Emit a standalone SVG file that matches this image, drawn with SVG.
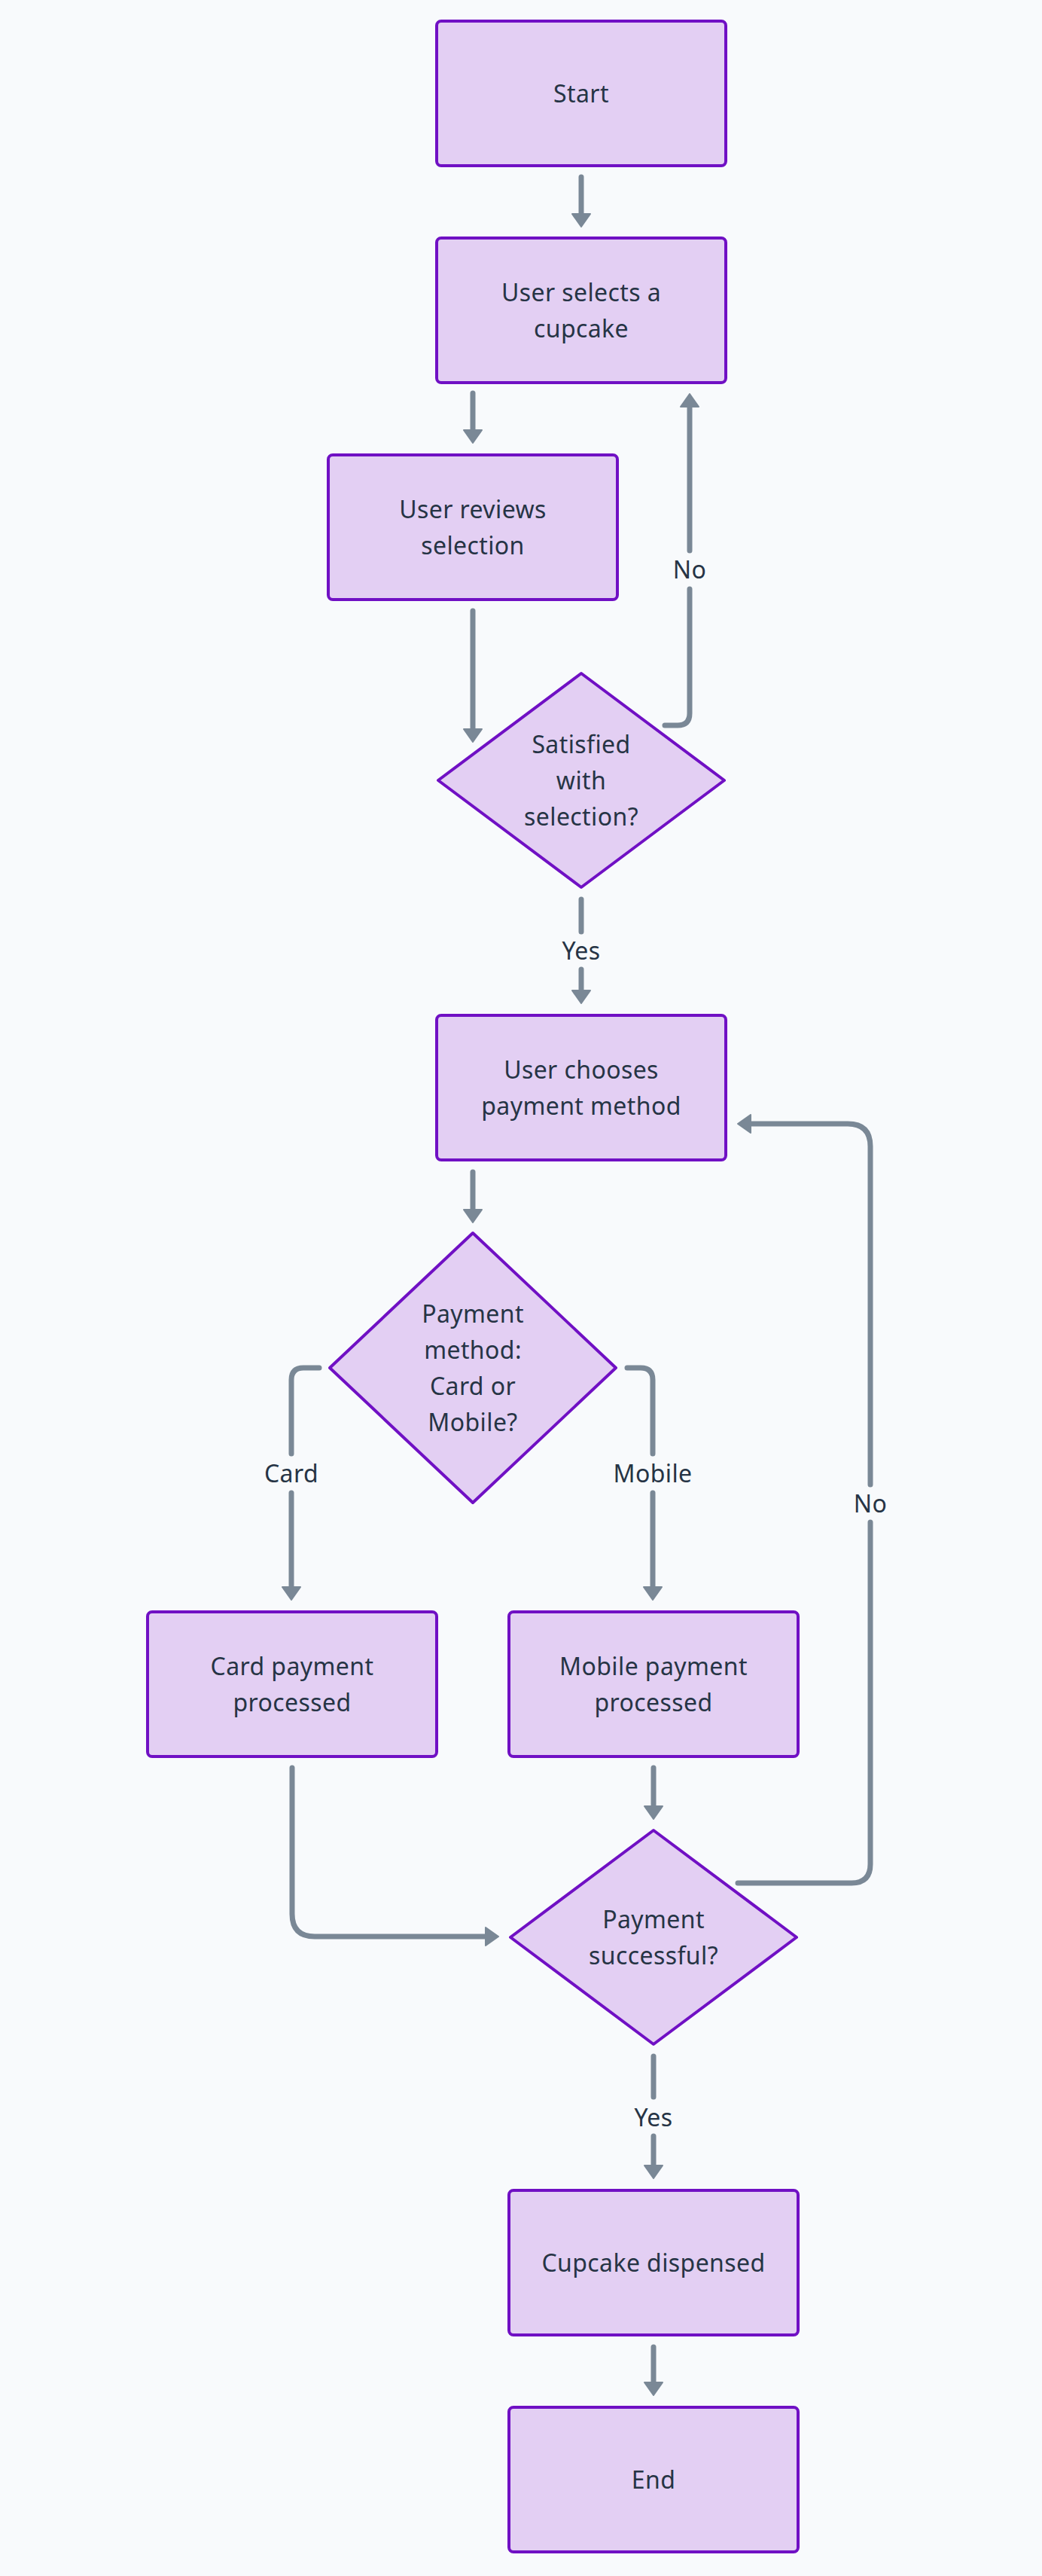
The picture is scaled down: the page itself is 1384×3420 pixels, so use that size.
<svg xmlns="http://www.w3.org/2000/svg" width="1384" height="3420" viewBox="0 0 1384 3420">
<defs>
<style>
.node rect, .node polygon { fill: #e3cff3; stroke: #7010c4; stroke-width: 4; stroke-linejoin: round; }
.node text, .lbl { font-family: "Noto Sans", "Liberation Sans", sans-serif; font-size: 32px; letter-spacing: 0.4px; fill: #263445; text-anchor: middle; }
.edge { fill: none; stroke: #7a8896; stroke-width: 7; stroke-linecap: round; stroke-linejoin: round; }
</style>
<marker id="ah" viewBox="0 0 19 26" refX="1" refY="13" markerWidth="19" markerHeight="26" markerUnits="userSpaceOnUse" orient="auto">
<path d="M1,1 L18,13 L1,25 Z" fill="#7a8896" stroke="#7a8896" stroke-width="2" stroke-linejoin="round"/>
</marker>
</defs>
<rect x="0" y="0" width="1384" height="3420" fill="#f8fafc"/>

<g id="connectors">
<path class="edge" d="M772,235 V284" marker-end="url(#ah)"/>
<path class="edge" d="M628,522 V571" marker-end="url(#ah)"/>
<path class="edge" d="M628,811 V968" marker-end="url(#ah)"/>
<path class="edge" d="M883,963 H900 Q916,963 916,947 V782"/>
<path class="edge" d="M916,731 V540" marker-end="url(#ah)"/>
<text class="lbl" x="916" y="768">No</text>
<path class="edge" d="M772,1194 V1237"/>
<path class="edge" d="M772,1287 V1315" marker-end="url(#ah)"/>
<text class="lbl" x="772" y="1274">Yes</text>
<path class="edge" d="M628,1556 V1606" marker-end="url(#ah)"/>
<path class="edge" d="M424,1816 H403 Q387,1816 387,1832 V1930"/>
<path class="edge" d="M387,1982 V2107" marker-end="url(#ah)"/>
<text class="lbl" x="387" y="1968">Card</text>
<path class="edge" d="M833,1816 H851 Q867,1816 867,1832 V1930"/>
<path class="edge" d="M867,1982 V2107" marker-end="url(#ah)"/>
<text class="lbl" x="867" y="1968">Mobile</text>
<path class="edge" d="M388,2347 V2541 Q388,2571 418,2571 H645" marker-end="url(#ah)"/>
<path class="edge" d="M868,2347 V2398" marker-end="url(#ah)"/>
<path class="edge" d="M980,2500 H1131 Q1156,2500 1156,2475 V2021"/>
<path class="edge" d="M1156,1971 V1522 Q1156,1492 1126,1492 H997" marker-end="url(#ah)"/>
<text class="lbl" x="1156" y="2008">No</text>
<path class="edge" d="M868,2730 V2784"/>
<path class="edge" d="M868,2836 V2875" marker-end="url(#ah)"/>
<text class="lbl" x="868" y="2823">Yes</text>
<path class="edge" d="M868,3116 V3163" marker-end="url(#ah)"/>
</g>

<g id="start" class="node">
<rect x="580" y="28" width="384" height="192" rx="6"/>
<text x="772" y="136">Start</text>
</g>
<g id="select" class="node">
<rect x="580" y="316" width="384" height="192" rx="6"/>
<text x="772" y="400">User selects a</text>
<text x="772" y="448">cupcake</text>
</g>
<g id="review" class="node">
<rect x="436" y="604" width="384" height="192" rx="6"/>
<text x="628" y="688">User reviews</text>
<text x="628" y="736">selection</text>
</g>
<g id="satisfied" class="node">
<polygon points="772,894 962,1036 772,1178 582,1036"/>
<text x="772" y="1000">Satisfied</text>
<text x="772" y="1048">with</text>
<text x="772" y="1096">selection?</text>
</g>
<g id="choose" class="node">
<rect x="580" y="1348" width="384" height="192" rx="6"/>
<text x="772" y="1432">User chooses</text>
<text x="772" y="1480">payment method</text>
</g>
<g id="method" class="node">
<polygon points="628,1637 818,1816 628,1995 438,1816"/>
<text x="628" y="1756">Payment</text>
<text x="628" y="1804">method:</text>
<text x="628" y="1852">Card or</text>
<text x="628" y="1900">Mobile?</text>
</g>
<g id="card" class="node">
<rect x="196" y="2140" width="384" height="192" rx="6"/>
<text x="388" y="2224">Card payment</text>
<text x="388" y="2272">processed</text>
</g>
<g id="mobile" class="node">
<rect x="676" y="2140" width="384" height="192" rx="6"/>
<text x="868" y="2224">Mobile payment</text>
<text x="868" y="2272">processed</text>
</g>
<g id="success" class="node">
<polygon points="868,2430 1058,2572 868,2714 678,2572"/>
<text x="868" y="2560">Payment</text>
<text x="868" y="2608">successful?</text>
</g>
<g id="dispensed" class="node">
<rect x="676" y="2908" width="384" height="192" rx="6"/>
<text x="868" y="3016">Cupcake dispensed</text>
</g>
<g id="end" class="node">
<rect x="676" y="3196" width="384" height="192" rx="6"/>
<text x="868" y="3304">End</text>
</g>
</svg>
